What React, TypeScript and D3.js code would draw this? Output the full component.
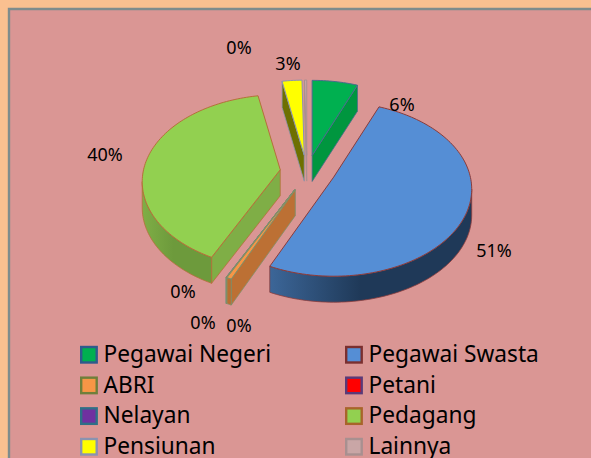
import React from "react";
import * as d3 from "d3";

// ---- data ----
const categories = ["Pegawai Negeri","Pegawai Swasta","ABRI","Petani","Nelayan","Pedagang","Pensiunan","Lainnya"];
const shares = [6.1, 50.6, 0.49, 0.03, 0.03, 39.8, 2.65, 0.3];

// ---- styling ----
const topFill = ["#00B050","#558ED5","#F79646","#FF0000","#7030A0","#92D050","#FFFF00","#C9A6A6"];
const wallLight = ["#00963F","#3C6698","#BC7034","#7A8C70","#7A8C70","#7FAE46","#6E7000","#A98A8A"];
const wallDark = ["#00963F","#1F3958","#B86E32","#7A8C70","#7A8C70","#6D9A3C","#6E7000","#A98A8A"];
const edge = ["#4A6C8C","#8A3C3C","#7F8F6A","#7F8F6A","#6F8F80","#B5703A","#8A93B0","#A89090"];
const legendEdge = ["#2F5A8C","#7B2F2F","#6F7F3A","#5A3A78","#2F6F86","#A8642A","#8A93B0","#A89090"];
const explode = [27, 29, 28, 28, 28, 27, 27, 27];
const lift = [2, 4, 0, 0, 0, 2, 2, 2];
const drawOrder = [7, 6, 0, 1, 5, 4, 3, 2];
const labelAnchors: [number, number][] = [[402,111],[494,257],[239,332],[183,298],[203,329],[105,161],[288,70],[239,54]];

// ---- projection of the tilted pie ----
const CX = 307, CY = 174, R = 136.7, TILT = 0.625, PERSP = 0.138, DEPTH = 26;
const project = (a: number, r = R): [number, number] => {
  const u = Math.sin(a), t = Math.cos(a), w = 1 + PERSP * t * (r / R);
  return [r * u / w, -r * TILT * t / w];
};

const pieGen = d3.pie<number>().sort(null).value((d) => d);
const arcs = pieGen(shares);
const legendRow = d3.scalePoint<number>().domain([0, 1, 2, 3]).range([354.5, 446.5]);
const legendCol = d3.scalePoint<number>().domain([0, 1]).range([80, 345]);
const line = d3.line();

function Slice({ i }: { i: number }) {
  const { startAngle: a0, endAngle: a1 } = arcs[i];
  const mid = (a0 + a1) / 2;
  const [ox, oy] = [explode[i] * Math.sin(mid), -explode[i] * TILT * Math.cos(mid) - lift[i]];
  const ax = CX + ox, ay = CY + oy;
  const n = Math.max(2, Math.ceil((a1 - a0) * 40));
  const pts = d3.range(n + 1).map((k) => {
    const a = a0 + ((a1 - a0) * k) / n;
    const [x, y] = project(a);
    return [ax + x, ay + y] as [number, number];
  });
  const top: [number, number][] = [[ax, ay], ...pts];
  const lo = Math.acos(-PERSP), hi = 2 * Math.PI - lo;
  const w0 = Math.max(a0, lo), w1 = Math.min(a1, hi);
  const walls: React.ReactNode[] = [];
  if (Math.sin(a0) < 0) {
    const e = pts[0];
    walls.push(<path key="s" d={line([[ax, ay], e, [e[0], e[1] + DEPTH], [ax, ay + DEPTH]])! + "Z"} fill={wallLight[i]} stroke={edge[i]} strokeWidth={0.8} />);
  }
  if (Math.sin(a1) > 0) {
    const e = pts[pts.length - 1];
    walls.push(<path key="e" d={line([[ax, ay], e, [e[0], e[1] + DEPTH], [ax, ay + DEPTH]])! + "Z"} fill={wallDark[i]} stroke={edge[i]} strokeWidth={0.8} />);
  }
  if (w1 > w0) {
    const m = Math.max(2, Math.ceil((w1 - w0) * 40));
    const upper = d3.range(m + 1).map((k) => {
      const [x, y] = project(w0 + ((w1 - w0) * k) / m);
      return [ax + x, ay + y] as [number, number];
    });
    const lower = upper.map(([x, y]) => [x, y + DEPTH] as [number, number]).reverse();
    walls.push(<path key="o" d={line([...upper, ...lower])! + "Z"} fill={`url(#wall${i})`} stroke={edge[i]} strokeWidth={0.8} />);
  }
  return (
    <g>
      <defs>
        <linearGradient id={`wall${i}`} x1="0" x2="1" y1="0" y2="0">
          <stop offset="0" stopColor={wallLight[i]} />
          <stop offset="0.45" stopColor={wallDark[i]} />
          <stop offset="1" stopColor={wallDark[i]} />
        </linearGradient>
      </defs>
      {walls}
      <path d={line(top)! + "Z"} fill={topFill[i]} stroke={edge[i]} strokeWidth={1} strokeLinejoin="round" />
    </g>
  );
}

export default function App() {
  const font = "'Noto Sans', 'Open Sans', sans-serif";
  return (
    <svg width={591} height={458} style={{ position: "fixed", left: 0, top: 0, display: "block" }} fontFamily={font}>
      <rect width={591} height={458} fill="#FAC090" />
      <rect x={8} y={8} width={583} height={450} fill="#DA9694" />
      <path d="M9 458V9H591" fill="none" stroke="#7F8C8C" strokeWidth={2.4} />
      {drawOrder.map((i) => <Slice key={i} i={i} />)}
      {shares.map((v, i) => (
        <text key={i} x={labelAnchors[i][0]} y={labelAnchors[i][1]} textAnchor="middle" fontSize={18} fill="#000">
          {Math.round(v)}%
        </text>
      ))}
      {categories.map((c, i) => {
        const x = legendCol(i % 2)!, y = legendRow(Math.floor(i / 2))!;
        return (
          <g key={c}>
            <rect x={x + 1.2} y={y - 7.5} width={15.5} height={15.5} fill={topFill[i]} stroke={legendEdge[i]} strokeWidth={2.4} />
            <text x={x + 23.5} y={y + 7.5} fontSize={22.7} fill="#000">{c}</text>
          </g>
        );
      })}
    </svg>
  );
}
